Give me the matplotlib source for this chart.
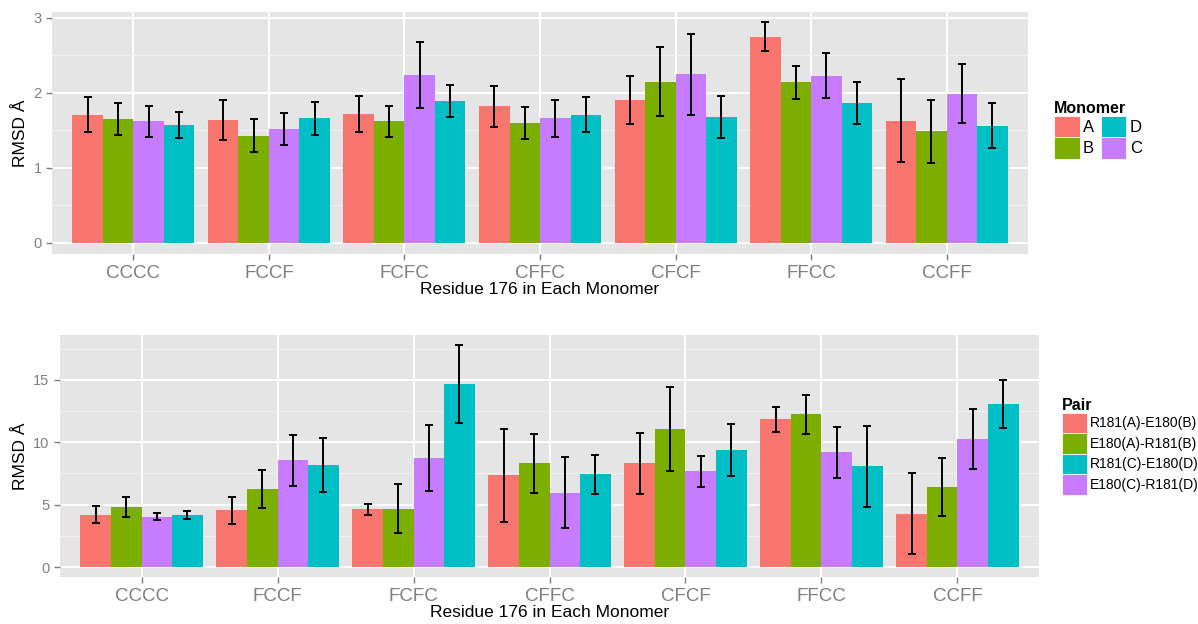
import numpy as np
import matplotlib
matplotlib.use("Agg")
import matplotlib.pyplot as plt
from matplotlib.patches import Patch

plt.rcParams["font.family"] = ["Liberation Sans", "DejaVu Sans"]

# ── data ──────────────────────────────────────────────────────────
categories = ["CCCC", "FCCF", "FCFC", "CFFC", "CFCF", "FFCC", "CCFF"]

# top panel: per-monomer RMSD (bar order A, B, C, D)
mono_names = ["A", "B", "C", "D"]
mono_A = [1.71, 1.64, 1.72, 1.82, 1.90, 2.75, 1.63]
mono_B = [1.65, 1.43, 1.62, 1.60, 2.15, 2.14, 1.49]
mono_C = [1.62, 1.52, 2.24, 1.66, 2.25, 2.23, 1.99]
mono_D = [1.57, 1.66, 1.89, 1.71, 1.68, 1.86, 1.56]
mono_A_err = [0.23, 0.27, 0.24, 0.27, 0.32, 0.19, 0.55]
mono_B_err = [0.21, 0.22, 0.21, 0.21, 0.46, 0.22, 0.42]
mono_C_err = [0.21, 0.21, 0.44, 0.25, 0.54, 0.30, 0.39]
mono_D_err = [0.17, 0.22, 0.21, 0.23, 0.28, 0.28, 0.30]

# bottom panel: per-pair RMSD (bar order as drawn)
pair_names = ["R181(A)-E180(B)", "E180(A)-R181(B)", "E180(C)-R181(D)", "R181(C)-E180(D)"]
pair_AB1 = [4.20, 4.55, 4.63, 7.34, 8.30, 11.84, 4.29]
pair_AB2 = [4.80, 6.27, 4.69, 8.30, 11.10, 12.24, 6.43]
pair_CD2 = [4.05, 8.57, 8.76, 5.95, 7.69, 9.19, 10.29]
pair_CD1 = [4.18, 8.20, 14.65, 7.43, 9.40, 8.06, 13.07]
pair_AB1_err = [0.70, 1.10, 0.45, 3.73, 2.43, 1.00, 3.23]
pair_AB2_err = [0.80, 1.50, 1.95, 2.35, 3.37, 1.57, 2.33]
pair_CD2_err = [0.30, 2.05, 2.65, 2.83, 1.25, 2.05, 2.41]
pair_CD1_err = [0.35, 2.15, 3.12, 1.55, 2.10, 3.21, 1.95]

RED, GREEN, CYAN, PURPLE = "#F8766D", "#7CAE00", "#00BFC4", "#C77CFF"
PANEL = "#E5E5E5"
TICK_GREY = "#7F7F7F"

W, H = 1198, 624
fig = plt.figure(figsize=(W / 100, H / 100), dpi=100)


def px_axes(l, t, r, b):
    return fig.add_axes([l / W, 1 - b / H, (r - l) / W, (b - t) / H])


def draw_panel(ax, series, errs, colors, ylim, major, minor):
    x = np.arange(len(categories))
    bw = 0.9 / len(series)
    ax.set_facecolor(PANEL)
    for i, (vals, err, col) in enumerate(zip(series, errs, colors)):
        pos = x - 0.45 + bw * (i + 0.5)
        ax.bar(pos, vals, width=bw, color=col, linewidth=0, zorder=3)
        ax.errorbar(pos, vals, yerr=err, fmt="none", ecolor="black",
                    elinewidth=1.4, capsize=3, capthick=1.4, zorder=4)
    ax.set_xlim(-0.6, len(categories) - 0.4)
    ax.set_ylim(*ylim)
    ax.set_xticks(x)
    ax.set_xticklabels(categories, fontsize=13.5, color=TICK_GREY)
    ax.set_yticks(major)
    ax.set_yticks(minor, minor=True)
    ax.tick_params(axis="y", which="major", labelsize=10.5, labelcolor=TICK_GREY,
                   color=TICK_GREY, length=4, width=1)
    ax.tick_params(axis="y", which="minor", length=0)
    ax.tick_params(axis="x", color=TICK_GREY, length=4, width=1, pad=4)
    ax.grid(True, which="major", color="white", linewidth=1.4, zorder=0)
    ax.grid(True, which="minor", axis="y", color="#F2F2F2", linewidth=0.7, zorder=0)
    ax.set_axisbelow(True)
    for s in ax.spines.values():
        s.set_visible(False)
    ax.set_xlabel("Residue 176 in Each Monomer", fontsize=12.5, labelpad=0)
    ax.set_ylabel("RMSD Å", fontsize=12.5, labelpad=4)


# ── top: monomers ──
ax1 = px_axes(52, 12, 1028, 254)
draw_panel(ax1, [mono_A, mono_B, mono_C, mono_D],
           [mono_A_err, mono_B_err, mono_C_err, mono_D_err],
           [RED, GREEN, PURPLE, CYAN], (-0.147, 3.08),
           [0, 1, 2, 3], [0.5, 1.5, 2.5])
mono_colors = {"A": RED, "B": GREEN, "C": PURPLE, "D": CYAN}
h1 = [Patch(facecolor=mono_colors[n], edgecolor="white", linewidth=0.6, label=n)
      for n in ["A", "B", "D", "C"]]
leg1 = fig.legend(handles=h1, title="Monomer", ncol=2, loc="upper left",
                  bbox_to_anchor=(1047 / W, 1 - 94 / H), frameon=False,
                  fontsize=12, title_fontproperties={"weight": "bold", "size": 11.5},
                  handlelength=1.55, handleheight=1.6, labelspacing=0.0,
                  handletextpad=0.2, columnspacing=0.4, borderaxespad=0,
                  alignment="left")

# ── bottom: pairs ──
ax2 = px_axes(60, 335, 1039, 577)
draw_panel(ax2, [pair_AB1, pair_AB2, pair_CD2, pair_CD1],
           [pair_AB1_err, pair_AB2_err, pair_CD2_err, pair_CD1_err],
           [RED, GREEN, PURPLE, CYAN], (-0.8, 18.6),
           [0, 5, 10, 15], [2.5, 7.5, 12.5, 17.5])
pair_colors = dict(zip(pair_names, [RED, GREEN, PURPLE, CYAN]))
order = ["R181(A)-E180(B)", "E180(A)-R181(B)", "R181(C)-E180(D)", "E180(C)-R181(D)"]
h2 = [Patch(facecolor=pair_colors[n], edgecolor="white", linewidth=0.6, label=n)
      for n in order]
leg2 = fig.legend(handles=h2, title="Pair", loc="upper left",
                  bbox_to_anchor=(1056 / W, 1 - 392 / H), frameon=False,
                  fontsize=10, title_fontproperties={"weight": "bold", "size": 11.5},
                  handlelength=1.85, handleheight=1.9, labelspacing=0.0,
                  handletextpad=0.2, borderaxespad=0, alignment="left")

fig.savefig("out.png", dpi=100)
